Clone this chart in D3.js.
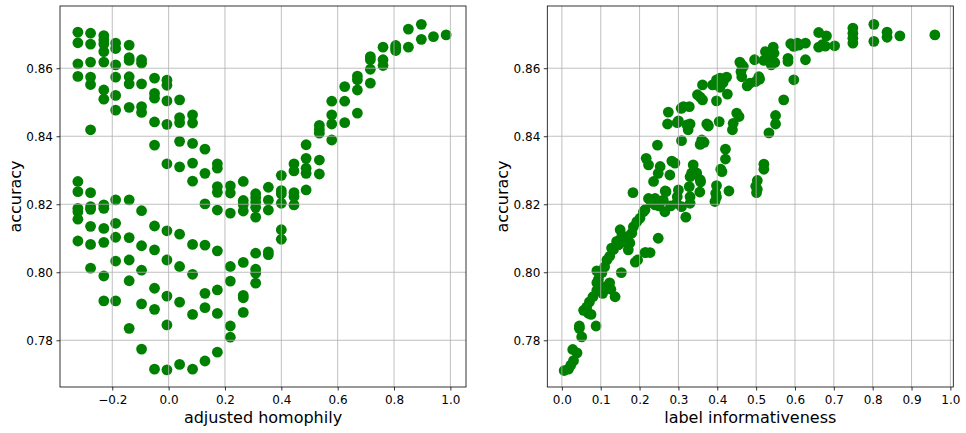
<!DOCTYPE html>
<html>
<head>
<meta charset="utf-8">
<script src="https://cdn.jsdelivr.net/npm/d3@7"></script>
<style>
  body { margin: 0; background: #fff; }
  svg text { font-family: "DejaVu Sans", sans-serif; }
</style>
</head>
<body>
<script>
'use strict';

// left panel: points sit in columns of adjusted homophily
const homophily = [-0.322, -0.277, -0.230, -0.188, -0.140, -0.096, -0.050, -0.006, 0.039, 0.085,
  0.129, 0.173, 0.219, 0.265, 0.309, 0.354, 0.400, 0.445, 0.488, 0.535,
  0.579, 0.625, 0.670, 0.716, 0.761, 0.806, 0.851, 0.897, 0.940, 0.985];

const accuracyByColumn = [
  [0.8706, 0.8675, 0.8613, 0.8576, 0.8267, 0.8237, 0.8188, 0.8178, 0.8156, 0.8092],
  [0.8703, 0.8671, 0.8618, 0.8574, 0.8552, 0.8419, 0.8234, 0.8193, 0.8185, 0.8135, 0.8082, 0.8012],
  [0.8696, 0.8683, 0.8671, 0.8649, 0.8618, 0.8536, 0.8509, 0.8198, 0.8188, 0.8129, 0.8088, 0.7989, 0.7916],
  [0.8674, 0.8658, 0.8610, 0.8574, 0.8520, 0.8477, 0.8213, 0.8144, 0.8103, 0.8033, 0.7916],
  [0.8668, 0.8631, 0.8623, 0.8575, 0.8554, 0.8485, 0.8213, 0.8102, 0.8036, 0.7975, 0.7835],
  [0.8625, 0.8615, 0.8554, 0.8487, 0.8470, 0.8181, 0.8078, 0.8006, 0.7907, 0.7774],
  [0.8571, 0.8526, 0.8512, 0.8442, 0.8374, 0.8136, 0.8066, 0.7953, 0.7891, 0.7715],
  [0.8565, 0.8550, 0.8504, 0.8435, 0.8319, 0.8122, 0.8036, 0.7930, 0.7845, 0.7713],
  [0.8507, 0.8455, 0.8440, 0.8385, 0.8310, 0.8112, 0.8017, 0.7912, 0.7729],
  [0.8463, 0.8439, 0.8379, 0.8321, 0.8268, 0.8082, 0.7994, 0.7876, 0.7715],
  [0.8362, 0.8291, 0.8201, 0.8080, 0.7938, 0.7896, 0.7739],
  [0.8319, 0.8306, 0.8252, 0.8235, 0.8183, 0.8063, 0.7948, 0.7879, 0.7765],
  [0.8254, 0.8233, 0.8174, 0.8017, 0.7974, 0.7842, 0.7809],
  [0.8267, 0.8211, 0.8199, 0.8180, 0.8029, 0.7932, 0.7925, 0.7882],
  [0.8231, 0.8219, 0.8206, 0.8191, 0.8162, 0.8056, 0.8009, 0.7997, 0.7968],
  [0.8250, 0.8212, 0.8183, 0.8060, 0.8052],
  [0.8285, 0.8240, 0.8230, 0.8203, 0.8125, 0.8097],
  [0.8319, 0.8298, 0.8234, 0.8223, 0.8198],
  [0.8375, 0.8335, 0.8306, 0.8291, 0.8242],
  [0.8432, 0.8420, 0.8409, 0.8330, 0.8289],
  [0.8503, 0.8463, 0.8436, 0.8389],
  [0.8546, 0.8503, 0.8440],
  [0.8577, 0.8566, 0.8536, 0.8468],
  [0.8634, 0.8625, 0.8597, 0.8556],
  [0.8662, 0.8625, 0.8608],
  [0.8667, 0.8659, 0.8652],
  [0.8715, 0.8662],
  [0.8729, 0.8685],
  [0.8693],
  [0.8698]
];

// right panel: [label informativeness, accuracy]
const infoPoints = [
  [0.960, 0.8698], [0.870, 0.8695], [0.837, 0.8706], [0.837, 0.8691], [0.803, 0.8729], [0.803, 0.8679],
  [0.749, 0.8718], [0.749, 0.8703], [0.749, 0.8688], [0.749, 0.8674],
  [0.702, 0.8666], [0.681, 0.8695], [0.661, 0.8705], [0.670, 0.8669], [0.661, 0.8662], [0.678, 0.8665],
  [0.627, 0.8674], [0.627, 0.8625], [0.606, 0.8674], [0.597, 0.8664], [0.589, 0.8672], [0.610, 0.8668],
  [0.597, 0.8566], [0.582, 0.8629], [0.582, 0.8620], [0.571, 0.8507],
  [0.544, 0.8662], [0.546, 0.8644], [0.539, 0.8610], [0.548, 0.8617],
  [0.524, 0.8649], [0.529, 0.8629], [0.520, 0.8623], [0.496, 0.8625],
  [0.507, 0.8575], [0.499, 0.8561], [0.484, 0.8556], [0.477, 0.8548], [0.509, 0.8568],
  [0.458, 0.8618], [0.463, 0.8610], [0.467, 0.8605], [0.463, 0.8575], [0.461, 0.8590],
  [0.450, 0.8468], [0.456, 0.8458], [0.441, 0.8438], [0.439, 0.8419],
  [0.550, 0.8461], [0.550, 0.8436], [0.533, 0.8410],
  [0.424, 0.8574], [0.407, 0.8571], [0.398, 0.8566], [0.388, 0.8551], [0.407, 0.8544], [0.426, 0.8524],
  [0.398, 0.8504], [0.415, 0.8558],
  [0.362, 0.8551], [0.349, 0.8522], [0.356, 0.8515], [0.362, 0.8507],
  [0.405, 0.8443], [0.376, 0.8433], [0.373, 0.8436], [0.377, 0.8430],
  [0.421, 0.8362], [0.421, 0.8333], [0.409, 0.8303], [0.412, 0.8296],
  [0.520, 0.8318], [0.520, 0.8303], [0.503, 0.8270], [0.499, 0.8253], [0.501, 0.8234], [0.503, 0.8244],
  [0.360, 0.8389], [0.366, 0.8382], [0.356, 0.8376],
  [0.430, 0.8239], [0.398, 0.8255], [0.396, 0.8232], [0.394, 0.8208], [0.398, 0.8221],
  [0.357, 0.8266], [0.355, 0.8236],
  [0.274, 0.8471], [0.272, 0.8436], [0.297, 0.8440], [0.300, 0.8445], [0.307, 0.8482], [0.313, 0.8487], [0.328, 0.8487],
  [0.322, 0.8433], [0.330, 0.8436], [0.325, 0.8419], [0.308, 0.8387], [0.246, 0.8374],
  [0.217, 0.8335], [0.223, 0.8316], [0.236, 0.8267], [0.253, 0.8311], [0.248, 0.8291], [0.278, 0.8286],
  [0.283, 0.8327], [0.291, 0.8321],
  [0.338, 0.8316], [0.334, 0.8292], [0.347, 0.8292], [0.356, 0.8272], [0.330, 0.8281],
  [0.183, 0.8234], [0.266, 0.8239],
  [0.223, 0.8217], [0.240, 0.8217], [0.268, 0.8237], [0.261, 0.8212], [0.300, 0.8242], [0.297, 0.8222],
  [0.328, 0.8252], [0.330, 0.8222], [0.330, 0.8203],
  [0.295, 0.8203], [0.308, 0.8193], [0.319, 0.8162], [0.265, 0.8178], [0.240, 0.8198], [0.214, 0.8184],
  [0.210, 0.8178], [0.230, 0.8205], [0.250, 0.8195], [0.280, 0.8195],
  [0.201, 0.8159], [0.193, 0.8149], [0.184, 0.8134], [0.167, 0.8105], [0.150, 0.8125], [0.154, 0.8105],
  [0.141, 0.8091], [0.180, 0.8115], [0.175, 0.8086],
  [0.248, 0.8100], [0.227, 0.8058], [0.214, 0.8058], [0.128, 0.8071], [0.145, 0.8081], [0.160, 0.8100], [0.170, 0.8095],
  [0.006, 0.7711], [0.017, 0.7715], [0.023, 0.7727], [0.030, 0.7740], [0.028, 0.7773], [0.039, 0.7763],
  [0.051, 0.7810], [0.045, 0.7835], [0.045, 0.7842], [0.088, 0.7842],
  [0.056, 0.7888], [0.064, 0.7898], [0.075, 0.7876], [0.071, 0.7913], [0.080, 0.7928], [0.068, 0.7880],
  [0.090, 0.7947], [0.090, 0.7969], [0.094, 0.7979], [0.090, 0.8004],
  [0.105, 0.7938], [0.111, 0.7957], [0.123, 0.7969], [0.126, 0.7950], [0.137, 0.7928],
  [0.103, 0.7999], [0.110, 0.8016], [0.116, 0.8036], [0.123, 0.8047], [0.133, 0.8067], [0.146, 0.8081], [0.167, 0.8088],
  [0.153, 0.7999], [0.171, 0.8066], [0.189, 0.8030], [0.195, 0.8036], [0.216, 0.8058]
];

const homTicks = [-0.2, 0.0, 0.2, 0.4, 0.6, 0.8, 1.0];
const infoTicks = [0.0, 0.1, 0.2, 0.3, 0.4, 0.5, 0.6, 0.7, 0.8, 0.9, 1.0];
const accTicks = [0.78, 0.80, 0.82, 0.84, 0.86];

const width = 966, height = 433;
const plotTop = 6, plotBottom = 387;

const svg = d3.select('body').append('svg')
  .attr('width', width)
  .attr('height', height);

svg.append('rect').attr('width', width).attr('height', height).attr('fill', '#fff');

// same y range for both panels
const yScale = d3.scaleLinear().domain([0.76626, 0.8783]).range([plotBottom, plotTop]);

const homPoints = [];
homophily.forEach((h, i) => {
  accuracyByColumn[i].forEach((a) => homPoints.push([h, a]));
});

function drawPanel(points, xDomain, xRange, xTicks, xLabel, yLabelX) {
  let xScale = d3.scaleLinear().domain(xDomain).range(xRange);
  let g = svg.append('g');

  // dots
  g.selectAll('circle')
    .data(points)
    .enter()
    .append('circle')
    .attr('cx', (d) => xScale(d[0]))
    .attr('cy', (d) => yScale(d[1]))
    .attr('r', 5.4)
    .attr('fill', '#008000');

  // grid goes over the dots, like matplotlib
  g.selectAll('.vgrid')
    .data(xTicks)
    .enter()
    .append('line')
    .attr('x1', (d) => xScale(d))
    .attr('x2', (d) => xScale(d))
    .attr('y1', plotTop)
    .attr('y2', plotBottom)
    .attr('stroke', '#b0b0b0')
    .attr('stroke-width', 0.8);

  g.selectAll('.hgrid')
    .data(accTicks)
    .enter()
    .append('line')
    .attr('x1', xRange[0])
    .attr('x2', xRange[1])
    .attr('y1', (d) => yScale(d))
    .attr('y2', (d) => yScale(d))
    .attr('stroke', '#b0b0b0')
    .attr('stroke-width', 0.8);

  let xAxis = d3.axisBottom(xScale)
    .tickValues(xTicks)
    .tickSize(3.5)
    .tickPadding(4.5)
    .tickFormat((d) => d3.format('.1f')(d).replace('-', '\u2212'));

  let xg = g.append('g')
    .attr('transform', 'translate(0,' + plotBottom + ')')
    .call(xAxis);

  let yAxis = d3.axisLeft(yScale)
    .tickValues(accTicks)
    .tickSize(3.5)
    .tickPadding(3.5)
    .tickFormat(d3.format('.2f'));

  let yg = g.append('g')
    .attr('transform', 'translate(' + xRange[0] + ',0)')
    .call(yAxis);

  [xg, yg].forEach((ax) => {
    ax.select('.domain').remove();
    ax.selectAll('.tick line').attr('stroke', '#000').attr('stroke-width', 0.8);
    ax.selectAll('.tick text')
      .attr('fill', '#000')
      .style('font-size', '12px')
      .style('font-family', '"DejaVu Sans", sans-serif');
  });

  // frame
  g.append('rect')
    .attr('x', xRange[0])
    .attr('y', plotTop)
    .attr('width', xRange[1] - xRange[0])
    .attr('height', plotBottom - plotTop)
    .attr('fill', 'none')
    .attr('stroke', '#000')
    .attr('stroke-width', 0.8);

  g.append('text')
    .attr('x', (xRange[0] + xRange[1]) / 2)
    .attr('y', 422.5)
    .attr('text-anchor', 'middle')
    .style('font-size', '16px')
    .text(xLabel);

  g.append('text')
    .attr('transform', 'translate(' + yLabelX + ',' + ((plotTop + plotBottom) / 2) + ')rotate(-90)')
    .attr('text-anchor', 'middle')
    .style('font-size', '16px')
    .text('accuracy');
}

drawPanel(homPoints, [-0.3855, 1.0555], [60, 466], homTicks, 'adjusted homophily', 20.5);
drawPanel(infoPoints, [-0.0375, 1.0075], [547.3, 953.3], infoTicks, 'label informativeness', 508);
</script>
</body>
</html>
